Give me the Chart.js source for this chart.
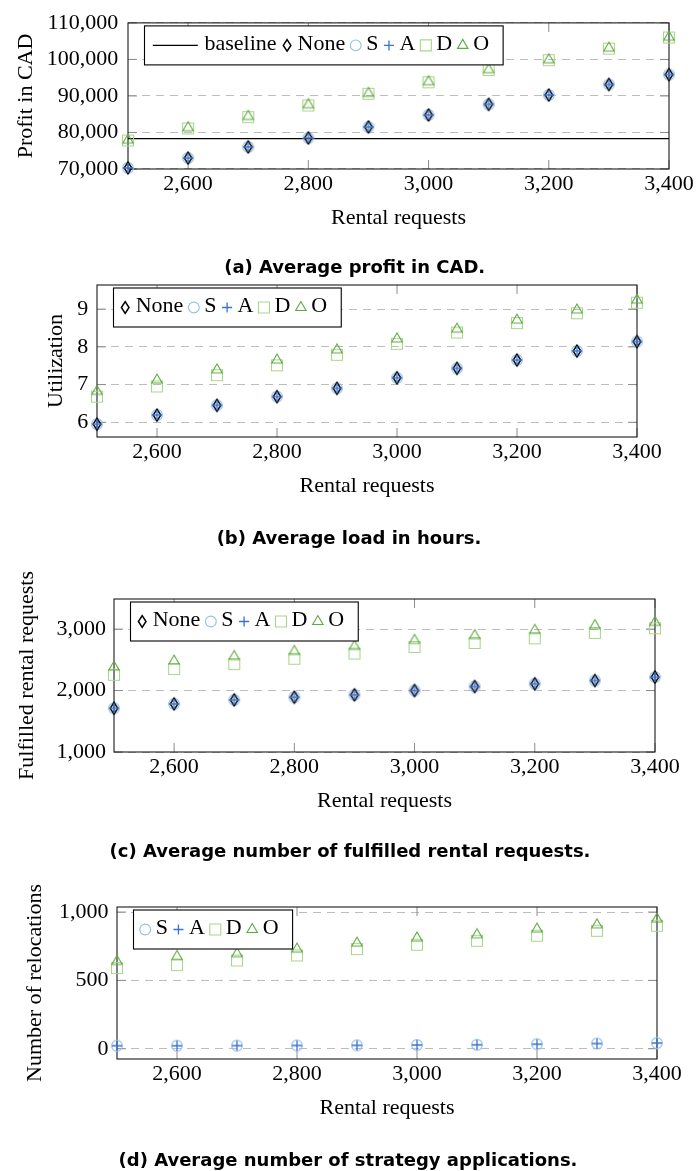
<!DOCTYPE html>
<html><head><meta charset="utf-8">
<script src="https://cdn.jsdelivr.net/npm/chart.js@4/dist/chart.umd.min.js"></script>
<style>
html,body{margin:0;padding:0;background:#fff;}
#wrap{position:relative;width:696px;height:1171px;overflow:hidden;background:#fff;}
canvas{position:absolute;left:0;top:0;}
.cap{position:absolute;width:696px;text-align:center;font-family:"DejaVu Sans",sans-serif;font-weight:bold;font-size:18px;line-height:18px;color:#000;white-space:nowrap;}
</style></head><body>
<div id="wrap">
<canvas id="ca" width="696" height="1171"></canvas>
<canvas id="cb" width="696" height="1171"></canvas>
<canvas id="cc" width="696" height="1171"></canvas>
<canvas id="cd" width="696" height="1171"></canvas>
<div class="cap" id="capA">(a) Average profit in CAD.</div>
<div class="cap" id="capB">(b) Average load in hours.</div>
<div class="cap" id="capC">(c) Average number of fulfilled rental requests.</div>
<div class="cap" id="capD">(d) Average number of strategy applications.</div>
</div>
<script>
// ---------- data ----------
const rentalRequests = [2500, 2600, 2700, 2800, 2900, 3000, 3100, 3200, 3300, 3400];
const xTickValues = [2600, 2800, 3000, 3200, 3400];

// (a) average profit in CAD
const profitBaseline = 78300;
const profitNone = [70300, 73000, 76050, 78500, 81500, 84800, 87700, 90250, 93150, 95850];
const profitS    = [70300, 73000, 76050, 78500, 81500, 84800, 87700, 90250, 93150, 95850];
const profitA    = [70300, 73000, 76050, 78500, 81500, 84800, 87700, 90250, 93150, 95850];
const profitD    = [77800, 81100, 84200, 87400, 90600, 93750, 97100, 99800, 102950, 106000];
const profitO    = [77900, 81300, 84400, 87600, 90700, 93900, 97200, 99900, 103100, 106100];
const profitTicks = [70000, 80000, 90000, 100000, 110000];

// (b) average load in hours
const utilNone = [5.95, 6.19, 6.45, 6.68, 6.90, 7.18, 7.43, 7.65, 7.89, 8.14];
const utilS    = [5.95, 6.19, 6.45, 6.68, 6.90, 7.18, 7.43, 7.65, 7.89, 8.14];
const utilA    = [5.95, 6.19, 6.45, 6.68, 6.90, 7.18, 7.43, 7.65, 7.89, 8.14];
const utilD    = [6.68, 6.95, 7.25, 7.51, 7.79, 8.08, 8.38, 8.63, 8.89, 9.17];
const utilO    = [6.82, 7.12, 7.39, 7.65, 7.92, 8.21, 8.47, 8.71, 8.98, 9.24];
const utilTicks = [6, 7, 8, 9];

// (c) average number of fulfilled rental requests
const fulfilledNone = [1712, 1783, 1848, 1892, 1930, 2000, 2065, 2110, 2163, 2219];
const fulfilledS    = [1712, 1783, 1848, 1892, 1930, 2000, 2065, 2110, 2163, 2219];
const fulfilledA    = [1712, 1783, 1848, 1892, 1930, 2000, 2065, 2110, 2163, 2219];
const fulfilledD    = [2257, 2350, 2431, 2518, 2603, 2709, 2774, 2850, 2938, 3013];
const fulfilledO    = [2382, 2480, 2555, 2637, 2719, 2817, 2894, 2980, 3057, 3110];
const fulfilledTicks = [1000, 2000, 3000];

// (d) average number of strategy applications (relocations)
const relocS = [22, 22, 23, 24, 25, 27, 29, 33, 38, 42];
const relocA = [22, 22, 23, 24, 25, 27, 29, 33, 38, 42];
const relocD = [590, 612, 646, 683, 729, 761, 790, 827, 863, 900];
const relocO = [639, 675, 695, 729, 773, 810, 834, 876, 907, 949];
const relocTicks = [0, 500, 1000];

// ---------- styles ----------
const FONT_FAMILY = '"Liberation Serif", "Times New Roman", serif';
const FONT_SIZE = 22;
const F = {family: FONT_FAMILY, size: FONT_SIZE, lineHeight: 1.2};
const fmt = v => Number(v).toLocaleString('en-US');
const W = 696, H = 1171, XSCALE_H = 71;

const STYLE = {
  None: {shape: 'diamond', color: '#000000'},
  S: {shape: 'circle', color: '#94bfe8'},
  A: {shape: 'plus', color: '#3a72d0'},
  D: {shape: 'square', color: '#a9d68e'},
  O: {shape: 'triangle', color: '#5cab3e'}
};
const Z = {A: 0, None: 1, S: 2, O: 3, D: 4, baseline: 5};

function drawMarker(ctx, shape, x, y, color) {
  ctx.save();
  ctx.strokeStyle = color;
  ctx.lineWidth = shape === 'plus' ? 1.3 : (shape === 'diamond' ? 1.5 : 1.1);
  ctx.setLineDash([]);
  ctx.beginPath();
  switch (shape) {
    case 'diamond': ctx.moveTo(x, y - 5.8); ctx.lineTo(x + 3.8, y); ctx.lineTo(x, y + 5.8); ctx.lineTo(x - 3.8, y); ctx.closePath(); break;
    case 'circle': ctx.arc(x, y, 5.4, 0, Math.PI * 2); break;
    case 'plus': ctx.moveTo(x - 5, y); ctx.lineTo(x + 5, y); ctx.moveTo(x, y - 5); ctx.lineTo(x, y + 5); break;
    case 'square': ctx.rect(x - 5.5, y - 5.5, 11, 11); break;
    case 'triangle': ctx.moveTo(x, y - 6); ctx.lineTo(x + 5.2, y + 3); ctx.lineTo(x - 5.2, y + 3); ctx.closePath(); break;
  }
  ctx.stroke();
  ctx.restore();
}
const MARK = {};
for (const k in STYLE) {
  const c = document.createElement('canvas');
  c.width = 18; c.height = 18;
  drawMarker(c.getContext('2d'), STYLE[k].shape, 9, 9, STYLE[k].color);
  MARK[k] = c;
}

function pts(values) { return rentalRequests.map((x, i) => ({x: x, y: values[i]})); }

const CHARTS = [
  {id: 'ca', plot: {l: 128, r: 669, t: 17, b: 169}, yMin: 70000, yMax: 110000, yTicks: profitTicks, yPad: 9.7,
   yTitle: 'Profit in CAD', yTitleX: 25.9, legend: ['baseline', 'None', 'S', 'A', 'D', 'O'],
   series: {None: profitNone, S: profitS, A: profitA, D: profitD, O: profitO}, baseline: profitBaseline,
   cap: {id: 'capA', cx: 354.7, cy: 266.2}},
  {id: 'cb', plot: {l: 97, r: 637, t: 285, b: 437}, yMin: 5.61, yMax: 9.64, yTicks: utilTicks, yPad: 8.7,
   yTitle: 'Utilization', yTitleX: 55.9, legend: ['None', 'S', 'A', 'D', 'O'],
   series: {None: utilNone, S: utilS, A: utilA, D: utilD, O: utilO},
   cap: {id: 'capB', cx: 349, cy: 538}},
  {id: 'cc', plot: {l: 114, r: 655, t: 599, b: 752}, yMin: 1000, yMax: 3490, yTicks: fulfilledTicks, yPad: 8,
   yTitle: 'Fulfilled rental requests', yTitleX: 27.6, legend: ['None', 'S', 'A', 'D', 'O'],
   series: {None: fulfilledNone, S: fulfilledS, A: fulfilledA, D: fulfilledD, O: fulfilledO},
   cap: {id: 'capC', cx: 350, cy: 851}},
  {id: 'cd', plot: {l: 117, r: 657, t: 907, b: 1059}, yMin: -75, yMax: 1037, yTicks: relocTicks, yPad: 8.4,
   yTitle: 'Number of relocations', yTitleX: 35.6, legend: ['S', 'A', 'D', 'O'],
   series: {S: relocS, A: relocA, D: relocD, O: relocO},
   cap: {id: 'capD', cx: 348, cy: 1160}}
];

function makePlugin(cfg) {
  return {
    id: 'pgStyle',
    beforeDatasetsDraw(chart) {
      const ctx = chart.ctx, ca = chart.chartArea;
      const xs = chart.scales.x, ys = chart.scales.y;
      ctx.save();
      ctx.setLineDash([]);
      ctx.strokeStyle = '#8c8c8c';
      ctx.lineWidth = 1;
      const TL = 9;
      ctx.beginPath();
      xTickValues.forEach(v => {
        const px = xs.getPixelForValue(v);
        ctx.moveTo(px, ca.bottom); ctx.lineTo(px, ca.bottom - TL);
        ctx.moveTo(px, ca.top); ctx.lineTo(px, ca.top + TL);
      });
      cfg.yTicks.forEach(v => {
        const py = ys.getPixelForValue(v);
        ctx.moveTo(ca.left, py); ctx.lineTo(ca.left + TL, py);
        ctx.moveTo(ca.right, py); ctx.lineTo(ca.right - TL, py);
      });
      ctx.stroke();
      ctx.strokeStyle = '#1a1a1a';
      ctx.lineWidth = 1.1;
      ctx.strokeRect(ca.left, ca.top, ca.right - ca.left, ca.bottom - ca.top);
      ctx.restore();
    },
    afterDatasetsDraw(chart) {
      const ctx = chart.ctx, ca = chart.chartArea;
      // legend
      ctx.save();
      ctx.font = FONT_SIZE + 'px ' + FONT_FAMILY;
      const x0 = ca.left + 16.5, y0 = ca.top + 3, h = 39, cy = y0 + h / 2;
      let cursor = x0;
      const items = [];
      cfg.legend.forEach((key, i) => {
        const label = key;
        if (key === 'baseline') {
          const ls = cursor + 8.3;
          items.push({kind: 'line', x1: ls, x2: ls + 45});
          const ts = ls + 45 + 6.7;
          items.push({kind: 'text', x: ts, text: label});
          cursor = ts + ctx.measureText(label).width;
        } else {
          const mc = cursor + (i === 0 ? 11.7 : 10.5);
          items.push({kind: 'mark', x: mc, key: key});
          const ts = mc + 10.5;
          items.push({kind: 'text', x: ts, text: label});
          cursor = ts + ctx.measureText(label).width;
        }
      });
      const x1 = cursor + 14;
      ctx.fillStyle = '#ffffff';
      ctx.fillRect(x0, y0, x1 - x0, h);
      ctx.strokeStyle = '#000';
      ctx.lineWidth = 1.1;
      ctx.strokeRect(x0, y0, x1 - x0, h);
      ctx.fillStyle = '#000';
      ctx.textBaseline = 'middle';
      ctx.textAlign = 'left';
      items.forEach(it => {
        if (it.kind === 'line') {
          ctx.beginPath(); ctx.moveTo(it.x1, cy); ctx.lineTo(it.x2, cy);
          ctx.strokeStyle = '#000'; ctx.lineWidth = 1.2; ctx.stroke();
        } else if (it.kind === 'mark') {
          drawMarker(ctx, STYLE[it.key].shape, it.x, cy, STYLE[it.key].color);
        } else {
          ctx.fillText(it.text, it.x, cy - 1);
        }
      });
      ctx.restore();
      // y-axis title
      ctx.save();
      ctx.font = FONT_SIZE + 'px ' + FONT_FAMILY;
      ctx.fillStyle = '#000';
      ctx.textAlign = 'center';
      ctx.textBaseline = 'middle';
      ctx.translate(cfg.yTitleX, (ca.top + ca.bottom) / 2);
      ctx.rotate(-Math.PI / 2);
      ctx.fillText(cfg.yTitle, 0, 0);
      ctx.restore();
    }
  };
}

CHARTS.forEach(cfg => {
  const datasets = [];
  if (cfg.baseline !== undefined) {
    datasets.push({
      label: 'baseline',
      data: [{x: rentalRequests[0], y: cfg.baseline}, {x: rentalRequests[rentalRequests.length - 1], y: cfg.baseline}],
      showLine: true, borderColor: '#000', borderWidth: 1.2, pointRadius: 0, clip: false, order: Z.baseline
    });
  }
  Object.keys(cfg.series).forEach(k => {
    datasets.push({
      label: k, data: pts(cfg.series[k]), showLine: false,
      pointStyle: MARK[k], pointRadius: 9, pointHoverRadius: 9,
      clip: false, order: Z[k]
    });
  });
  const p = cfg.plot;
  new Chart(document.getElementById(cfg.id), {
    type: 'scatter',
    data: {datasets: datasets},
    options: {
      responsive: false, animation: false, events: [],
      layout: {padding: {left: 0, top: p.t, right: W - p.r, bottom: H - p.b - XSCALE_H}},
      plugins: {legend: {display: false}, tooltip: {enabled: false}},
      scales: {
        x: {
          type: 'linear', min: rentalRequests[0], max: rentalRequests[rentalRequests.length - 1],
          afterBuildTicks: s => { s.ticks = xTickValues.map(v => ({value: v})); },
          afterFit: s => { s.height = XSCALE_H; },
          ticks: {font: F, color: '#000', padding: 2.1, maxRotation: 0, minRotation: 0, autoSkip: false, callback: v => fmt(v)},
          grid: {display: false, drawTicks: false},
          border: {display: false},
          title: {display: true, text: 'Rental requests', font: F, color: '#000', padding: {top: 0, bottom: 8.5}}
        },
        y: {
          type: 'linear', min: cfg.yMin, max: cfg.yMax,
          afterBuildTicks: s => { s.ticks = cfg.yTicks.map(v => ({value: v})); },
          afterFit: s => { s.width = p.l; },
          ticks: {font: F, color: '#000', padding: cfg.yPad, autoSkip: false, callback: v => fmt(v)},
          grid: {color: '#bdbdbd', lineWidth: 1, drawTicks: false},
          border: {display: false, dash: [8, 6]}
        }
      }
    },
    plugins: [makePlugin(cfg)]
  });
  const cap = document.getElementById(cfg.cap.id);
  cap.style.left = (cfg.cap.cx - W / 2) + 'px';
  cap.style.top = (cfg.cap.cy - 8.67) + 'px';
});
</script>
</body></html>
